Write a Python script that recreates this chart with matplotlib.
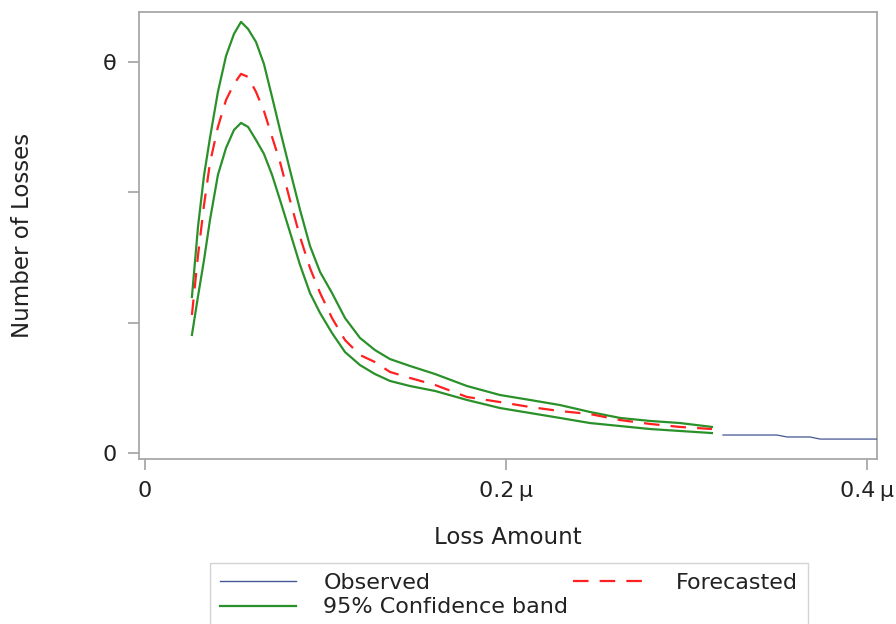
import matplotlib
matplotlib.use("Agg")
import matplotlib.pyplot as plt
from matplotlib.lines import Line2D

# ---- data ----
loss_amount = [0.0260, 0.0294, 0.0327, 0.0360, 0.0404, 0.0449, 0.0493, 0.0532,
               0.0571, 0.0615, 0.0659, 0.0704, 0.0748, 0.0803, 0.0859, 0.0914,
               0.0970, 0.1036, 0.1108, 0.1191, 0.1274, 0.1357, 0.1468, 0.1607,
               0.1784, 0.1967, 0.2133, 0.2299, 0.2465, 0.2632, 0.2798, 0.2964,
               0.3141]
upper_band = [1.197, 1.740, 2.130, 2.418, 2.771, 3.047, 3.216, 3.308,
              3.254, 3.154, 2.985, 2.732, 2.479, 2.172, 1.865, 1.589,
              1.389, 1.228, 1.036, 0.883, 0.790, 0.721, 0.668, 0.606,
              0.514, 0.445, 0.407, 0.368, 0.315, 0.269, 0.246, 0.230,
              0.200]
lower_band = [0.906, 1.205, 1.481, 1.788, 2.134, 2.341, 2.479, 2.533,
              2.502, 2.402, 2.295, 2.134, 1.942, 1.696, 1.443, 1.228,
              1.074, 0.921, 0.775, 0.675, 0.606, 0.553, 0.514, 0.476,
              0.407, 0.345, 0.307, 0.269, 0.230, 0.207, 0.184, 0.169,
              0.153]
forecast = [1.059, 1.520, 1.903, 2.226, 2.502, 2.709, 2.832, 2.909,
            2.886, 2.771, 2.625, 2.425, 2.233, 1.942, 1.658, 1.420,
            1.228, 1.036, 0.867, 0.752, 0.698, 0.622, 0.576, 0.522,
            0.430, 0.391, 0.353, 0.322, 0.299, 0.253, 0.223, 0.200,
            0.184]
observed_x = [0.3202, 0.3501, 0.3557, 0.3684, 0.3740, 0.4100]
observed_y = [0.138, 0.138, 0.123, 0.123, 0.107, 0.107]

x_ticks = [0.0, 0.2, 0.4]
x_tick_labels = ["0", "0.2\u2009\u03bc", "0.4\u2009\u03bc"]
y_ticks = [0, 1, 2, 3]
y_tick_labels = ["0", "", "", "\u03b8"]

# ---- style ----
GREEN = "#2a912a"
RED = "#ff2020"
BLUE = "#445694"
AXC = "#a8a8a8"
plt.rcParams["font.family"] = ["DejaVu Sans"]

fig = plt.figure(figsize=(8.96, 6.24), dpi=100)
ax = fig.add_axes([139/896, 1-459/624, (877-139)/896, (459-12)/624])

ax.plot(loss_amount, upper_band, color=GREEN, lw=1.6, zorder=2)
ax.plot(loss_amount, lower_band, color=GREEN, lw=1.6, zorder=2)
ax.plot(loss_amount, forecast, color=RED, lw=1.6, ls=(0, (7, 5)), zorder=3)
ax.plot(observed_x, observed_y, color=BLUE, lw=0.9, zorder=3)

ax.set_xlim(-0.00332, 0.40554)
ax.set_ylim(-0.046, 3.384)
ax.set_xticks(x_ticks)
ax.set_xticklabels(x_tick_labels)
ax.set_yticks(y_ticks)
ax.set_yticklabels(y_tick_labels)

for s in ax.spines.values():
    s.set_color(AXC)
    s.set_linewidth(1.3)
ax.tick_params(axis="both", direction="out", length=8, width=1.3, color=AXC,
               labelsize=16, labelcolor="#222222")
ax.tick_params(axis="x", pad=8)
ax.tick_params(axis="y", pad=8)

ax.set_xlabel("Loss Amount", fontsize=16.5, color="#222222", labelpad=18)
ax.set_ylabel("Number of Losses", fontsize=16.5, color="#222222", labelpad=49)

handles = [Line2D([], [], color=BLUE, lw=1.0),
           Line2D([], [], color=GREEN, lw=1.6),
           Line2D([], [], color=RED, lw=1.6, ls=(0, (7, 5)))]
labels = ["Observed", "95% Confidence band", "Forecasted"]
leg = fig.legend(handles, labels, loc="upper left",
                 bbox_to_anchor=(210/896, 1-563/624), ncol=2,
                 fontsize=16, frameon=True, fancybox=False,
                 handlelength=3.4, handletextpad=1.25, columnspacing=0.2,
                 labelspacing=0.2, borderpad=0.45, borderaxespad=0)
leg.get_frame().set_edgecolor("#c8c8c8")
leg.get_frame().set_linewidth(1.0)
for t in leg.get_texts():
    t.set_color("#222222")

fig.savefig("out.png", dpi=100)
